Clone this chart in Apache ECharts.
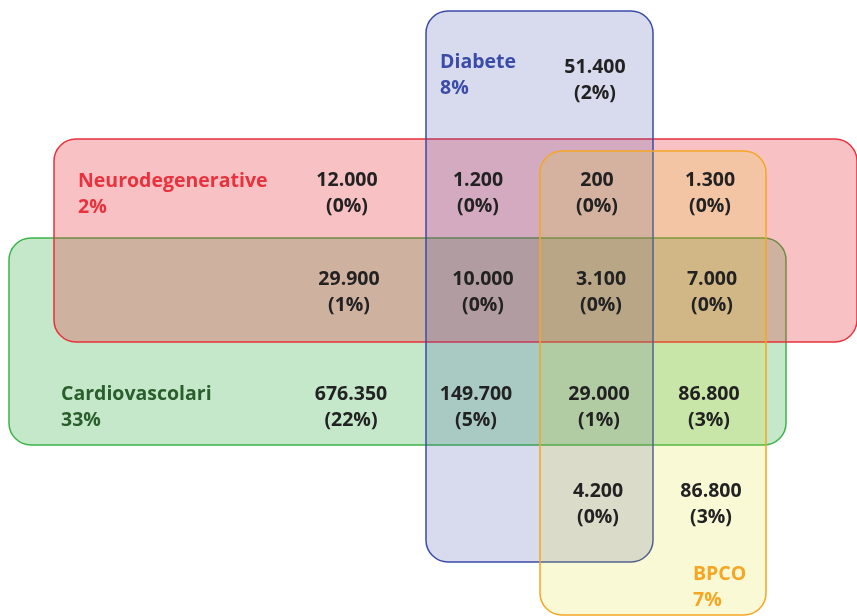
<!DOCTYPE html>
<html>
<head>
<meta charset="utf-8">
<script src="https://cdn.jsdelivr.net/npm/echarts@6/dist/echarts.min.js"></script>
<style>
  html, body { margin: 0; padding: 0; background: #fff; }
  #chart { width: 857px; height: 616px; }
</style>
</head>
<body>
<div id="chart"></div>
<script>
// insiemi (diagramma a rettangoli), coordinate nello spazio del disegno
var setNames = ['Cardiovascolari', 'Neurodegenerative', 'Diabete', 'BPCO'];
var setShares = ['33%', '2%', '8%', '7%'];
var setBoxes = [[9, 238, 786, 445], [54, 139, 857, 342], [426, 11, 653, 562], [540, 151, 766, 615]];
var setLabelAt = [[61, 407], [78, 194], [440, 75], [693, 587]];

// intersezioni
var regionCounts = ['51.400', '12.000', '1.200', '200', '1.300', '29.900', '10.000', '3.100', '7.000',
  '676.350', '149.700', '29.000', '86.800', '4.200', '86.800'];
var regionShares = ['2%', '0%', '0%', '0%', '0%', '1%', '0%', '0%', '0%',
  '22%', '5%', '1%', '3%', '0%', '3%'];
var regionAt = [[595, 80], [347, 193], [478, 193], [597, 193], [710, 193], [349, 292], [483, 292], [601, 292], [712, 292],
  [351, 407], [476, 407], [599, 407], [709, 407], [598, 504], [711, 504]];

var setFill = ['rgba(60,180,75,0.3)', 'rgba(232,50,61,0.3)', 'rgba(59,75,168,0.2)', 'rgba(222,218,0,0.16)'];
var setStroke = ['#3cb44b', '#e8323d', '#3b4ba8', '#f5a623'];
var setText = ['#2a5e2c', '#e8323d', '#3b4ba8', '#f5a623'];

var myChart = echarts.init(document.getElementById('chart'));
myChart.setOption({
  animation: false,
  grid: { left: 0, right: 0, top: 0, bottom: 0 },
  xAxis: { type: 'value', min: 0, max: 857, show: false },
  yAxis: { type: 'value', min: 0, max: 616, inverse: true, show: false },
  series: [
    {
      type: 'custom',
      clip: false,
      data: setBoxes,
      renderItem: function (params, api) {
        var p0 = api.coord([api.value(0), api.value(1)]);
        var p1 = api.coord([api.value(2), api.value(3)]);
        return {
          type: 'rect',
          shape: { x: p0[0], y: p0[1], width: p1[0] - p0[0], height: p1[1] - p0[1], r: 22 },
          style: { fill: setFill[params.dataIndex], stroke: setStroke[params.dataIndex], lineWidth: 1.5 }
        };
      }
    },
    {
      type: 'custom',
      clip: false,
      data: setLabelAt,
      renderItem: function (params, api) {
        var p = api.coord([api.value(0), api.value(1)]);
        var i = params.dataIndex;
        return {
          type: 'text',
          x: p[0], y: p[1],
          style: {
            text: setNames[i] + '\n' + setShares[i],
            fill: setText[i],
            font: 'bold 19.5px "Open Sans"',
            lineHeight: 26,
            align: 'left',
            verticalAlign: 'middle'
          }
        };
      }
    },
    {
      type: 'custom',
      clip: false,
      data: regionAt,
      renderItem: function (params, api) {
        var p = api.coord([api.value(0), api.value(1)]);
        var i = params.dataIndex;
        return {
          type: 'text',
          x: p[0], y: p[1],
          style: {
            text: regionCounts[i] + '\n(' + regionShares[i] + ')',
            fill: '#222222',
            font: 'bold 19.5px "Open Sans"',
            lineHeight: 26,
            align: 'center',
            verticalAlign: 'middle'
          }
        };
      }
    }
  ]
});
</script>
</body>
</html>
